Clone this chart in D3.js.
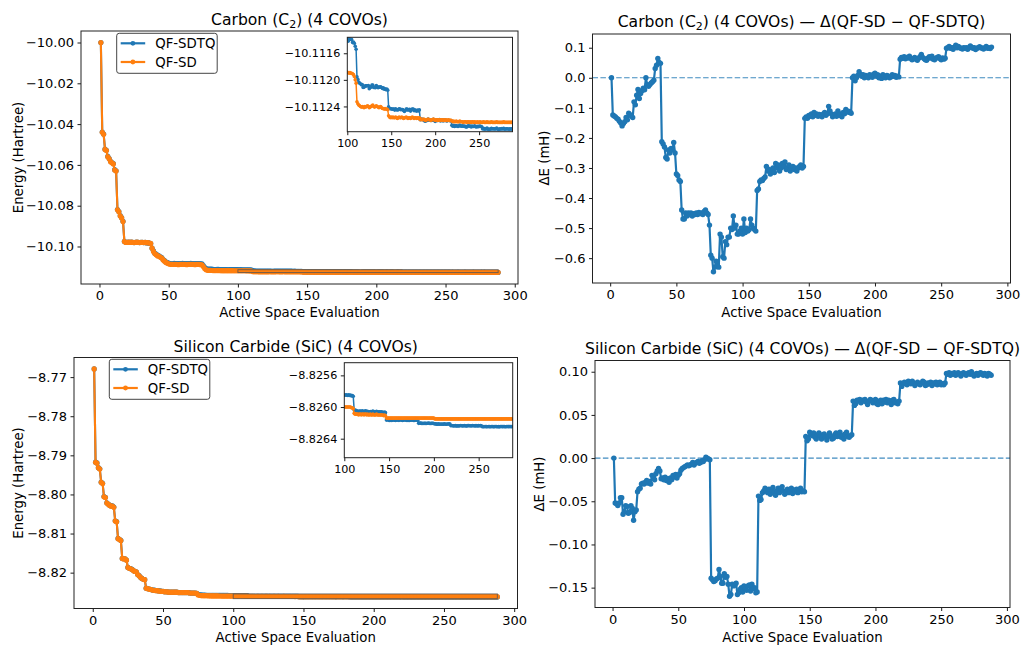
<!DOCTYPE html>
<html lang="en">
<head>
<meta charset="utf-8">
<title>QF-SD vs QF-SDTQ active space evaluation</title>
<script src="https://cdn.jsdelivr.net/npm/d3@7"></script>
<style>
  body { margin: 0; background: #fff; }
  svg { display: block; font-family: "DejaVu Sans", sans-serif; }
</style>
</head>
<body>
<svg id="fig" width="1024" height="645"></svg>
<script>
// x: active space evaluation index, shared by every panel
var evalIdx = d3.range(1, 289);

// Carbon (C2), QF-SD energy in Hartree
var carbonSD = [
  -10.0, -10.044, -10.045, -10.0524, -10.053, -10.056, -10.057, -10.0584, -10.059, -10.0595,
  -10.0625, -10.063, -10.082, -10.083, -10.085, -10.086, -10.0878, -10.0976, -10.098, -10.098,
  -10.0979, -10.098, -10.0979, -10.098, -10.0981, -10.098, -10.0979, -10.098, -10.0981, -10.098,
  -10.098, -10.0981, -10.098, -10.0982, -10.0981, -10.0983, -10.0985, -10.1008, -10.1024, -10.1036,
  -10.104, -10.1046, -10.1048, -10.1053, -10.1057, -10.1066, -10.1072, -10.1078, -10.1082, -10.1085,
  -10.1087, -10.1088, -10.1088, -10.1087, -10.1088, -10.1088, -10.1089, -10.1088, -10.1088, -10.1087,
  -10.1088, -10.1088, -10.1089, -10.1088, -10.1088, -10.1087, -10.1088, -10.1088, -10.1089, -10.1088,
  -10.1088, -10.1088, -10.1089, -10.109, -10.1098, -10.1108, -10.1114, -10.1117, -10.11172, -10.11175,
  -10.11176, -10.11178, -10.1118, -10.1118, -10.11181, -10.11182, -10.11182, -10.11183, -10.11184, -10.11184,
  -10.11185, -10.11185, -10.11186, -10.11186, -10.11187, -10.11187, -10.11188, -10.11188, -10.11188, -10.11189,
  -10.11189, -10.1119, -10.11189, -10.1119, -10.1119, -10.11191, -10.11192, -10.11195, -10.112, -10.11205,
  -10.11233, -10.11236, -10.11238, -10.11239, -10.1124, -10.11241, -10.1124, -10.11241, -10.11242, -10.1124,
  -10.11241, -10.1124, -10.11239, -10.1124, -10.11242, -10.11241, -10.1124, -10.11239, -10.11238, -10.1124,
  -10.11241, -10.1124, -10.11239, -10.1124, -10.11241, -10.11242, -10.11241, -10.1124, -10.11242, -10.11243,
  -10.11243, -10.11244, -10.11243, -10.11244, -10.11244, -10.11245, -10.11254, -10.11256, -10.11257, -10.11256,
  -10.11257, -10.11256, -10.11257, -10.11257, -10.11256, -10.11257, -10.11258, -10.11257, -10.11256, -10.11257,
  -10.11257, -10.11256, -10.11257, -10.11258, -10.11257, -10.11257, -10.11256, -10.11257, -10.11258, -10.11257,
  -10.11257, -10.11258, -10.11257, -10.11256, -10.11257, -10.11258, -10.11257, -10.11257, -10.11258, -10.11257,
  -10.11258, -10.11257, -10.1126, -10.11259, -10.1126, -10.1126, -10.11259, -10.1126, -10.11261, -10.1126,
  -10.1126, -10.11259, -10.1126, -10.1126, -10.11261, -10.1126, -10.1126, -10.11259, -10.1126, -10.11261,
  -10.1126, -10.1126, -10.11261, -10.1126, -10.1126, -10.11261, -10.1126, -10.1126, -10.11261, -10.1126,
  -10.11261, -10.1126, -10.11261, -10.11261, -10.1126, -10.11261, -10.11261, -10.11261, -10.11262, -10.11263,
  -10.11262, -10.11263, -10.11263, -10.11262, -10.11263, -10.11263, -10.11263, -10.11262, -10.11263, -10.11263,
  -10.11263, -10.11264, -10.11263, -10.11263, -10.11263, -10.11264, -10.11263, -10.11263, -10.11264, -10.11263,
  -10.11264, -10.11263, -10.11263, -10.11264, -10.11263, -10.11264, -10.11264, -10.11263, -10.11264, -10.11264,
  -10.11263, -10.11264, -10.11264, -10.11264, -10.11263, -10.11264, -10.11264, -10.11264, -10.11263, -10.11264,
  -10.11264, -10.11264, -10.11264, -10.11263, -10.11264, -10.11264, -10.11264, -10.11264, -10.11264, -10.11263,
  -10.11264, -10.11264, -10.11264, -10.11264, -10.11264, -10.11264, -10.11264, -10.11263, -10.11264, -10.11264,
  -10.11264, -10.11264, -10.11264, -10.11264, -10.11264, -10.11264, -10.11264, -10.11264
];

// Carbon (C2), QF-SD minus QF-SDTQ in mH
var carbonDelta = [
  0, -0.124, -0.127, -0.13, -0.135, -0.138, -0.145, -0.15, -0.16, -0.152,
  -0.146, -0.132, -0.14, -0.118, -0.123, -0.127, -0.132, -0.08, -0.09, -0.058,
  -0.039, -0.069, -0.052, -0.043, -0.035, -0.04, 0.0, -0.024, -0.028, -0.022,
  -0.017, -0.013, -0.008, 0.031, 0.042, 0.064, 0.051, 0.048, -0.213, -0.22,
  -0.23, -0.265, -0.27, -0.24, -0.25, -0.235, -0.24, -0.215, -0.25, -0.32,
  -0.325, -0.34, -0.345, -0.44, -0.47, -0.47, -0.45, -0.46, -0.45, -0.455,
  -0.45, -0.46, -0.452, -0.455, -0.45, -0.455, -0.448, -0.452, -0.45, -0.455,
  -0.445, -0.44, -0.45, -0.455, -0.49, -0.59, -0.6, -0.645, -0.63, -0.61,
  -0.625, -0.63, -0.52, -0.53, -0.595, -0.6, -0.545, -0.555, -0.53, -0.53,
  -0.5, -0.505, -0.46, -0.5, -0.49, -0.52, -0.52, -0.51, -0.5, -0.52,
  -0.47, -0.515, -0.5, -0.51, -0.505, -0.47, -0.49, -0.5, -0.505, -0.51,
  -0.375, -0.37, -0.345, -0.34, -0.342, -0.335, -0.33, -0.295, -0.31, -0.305,
  -0.32, -0.31, -0.3, -0.315, -0.285, -0.3, -0.29, -0.31, -0.3, -0.285,
  -0.295, -0.28, -0.305, -0.3, -0.29, -0.31, -0.3, -0.295, -0.305, -0.3,
  -0.31, -0.3, -0.295, -0.29, -0.3, -0.295, -0.135, -0.13, -0.135, -0.125,
  -0.128, -0.12, -0.13, -0.115, -0.125, -0.12, -0.128, -0.122, -0.125, -0.13,
  -0.12, -0.115, -0.125, -0.12, -0.095, -0.11, -0.12, -0.13, -0.125, -0.12,
  -0.128, -0.11, -0.125, -0.12, -0.13, -0.115, -0.12, -0.105, -0.11, -0.115,
  -0.112, -0.118, 0.0, 0.005, -0.01, 0.0, 0.008, 0.02, 0.012, 0.005,
  0.01, 0.0, 0.008, 0.004, 0.0, 0.01, 0.006, 0.002, 0.012, 0.015,
  0.005, 0.01, 0.0, 0.005, -0.002, 0.01, 0.004, 0.0, 0.008, 0.005,
  0.0, 0.003, 0.01, 0.005, 0.008, 0.002, 0.005, 0.003, 0.062, 0.068,
  0.065, 0.07, 0.063, 0.068, 0.066, 0.072, 0.065, 0.06, 0.064, 0.068,
  0.062, 0.058, 0.065, 0.07, 0.078, 0.068, 0.064, 0.06, 0.058, 0.065,
  0.07, 0.066, 0.072, 0.062, 0.06, 0.065, 0.068, 0.07, 0.064, 0.06,
  0.066, 0.062, 0.065, 0.098, 0.1, 0.104, 0.098, 0.1, 0.095, 0.102,
  0.108, 0.1, 0.104, 0.1, 0.098, 0.096, 0.1, 0.098, 0.1, 0.095,
  0.1, 0.106, 0.102, 0.098, 0.1, 0.094, 0.098, 0.1, 0.103, 0.1,
  0.098, 0.096, 0.1, 0.104, 0.098, 0.1, 0.097, 0.102
];

// Silicon carbide (SiC), QF-SD energy in Hartree
var sicSD = [
  -8.7679, -8.7918, -8.792, -8.7932, -8.7935, -8.7969, -8.7972, -8.8006, -8.8008, -8.8022,
  -8.8025, -8.8028, -8.803, -8.803, -8.8033, -8.8068, -8.807, -8.8113, -8.8115, -8.8118,
  -8.8164, -8.8165, -8.8165, -8.8168, -8.8187, -8.8189, -8.819, -8.8192, -8.8195, -8.8197,
  -8.8198, -8.8205, -8.8208, -8.8212, -8.8215, -8.8217, -8.8218, -8.824, -8.8241, -8.8242,
  -8.8243, -8.8244, -8.8245, -8.8245, -8.8246, -8.8246, -8.8247, -8.8247, -8.8248, -8.8248,
  -8.8249, -8.8249, -8.8249, -8.825, -8.825, -8.825, -8.825, -8.825, -8.825, -8.825,
  -8.8251, -8.8251, -8.8251, -8.8251, -8.8251, -8.8251, -8.8251, -8.8251, -8.8252, -8.8252,
  -8.8252, -8.8252, -8.8252, -8.8253, -8.8257, -8.8258, -8.82585, -8.82588, -8.8259, -8.8259,
  -8.82591, -8.82592, -8.82593, -8.82594, -8.82594, -8.82595, -8.82595, -8.82596, -8.82596, -8.82597,
  -8.82597, -8.82598, -8.82598, -8.82598, -8.82599, -8.82599, -8.82599, -8.826, -8.826, -8.826,
  -8.826, -8.826, -8.826, -8.826, -8.826, -8.826, -8.826, -8.82601, -8.82601, -8.82602,
  -8.82608, -8.82609, -8.82609, -8.82609, -8.82609, -8.8261, -8.82609, -8.82609, -8.8261, -8.82609,
  -8.82609, -8.8261, -8.82609, -8.82609, -8.8261, -8.82609, -8.8261, -8.8261, -8.82609, -8.8261,
  -8.8261, -8.82609, -8.8261, -8.8261, -8.8261, -8.82609, -8.8261, -8.8261, -8.8261, -8.8261,
  -8.8261, -8.8261, -8.8261, -8.82611, -8.8261, -8.82611, -8.82614, -8.82614, -8.82614, -8.82614,
  -8.82614, -8.82614, -8.82614, -8.82614, -8.82614, -8.82614, -8.82614, -8.82614, -8.82614, -8.82614,
  -8.82614, -8.82614, -8.82614, -8.82614, -8.82614, -8.82614, -8.82614, -8.82614, -8.82614, -8.82614,
  -8.82614, -8.82614, -8.82614, -8.82614, -8.82614, -8.82614, -8.82614, -8.82614, -8.82614, -8.82614,
  -8.82614, -8.82614, -8.82614, -8.82614, -8.82614, -8.82614, -8.82614, -8.82614, -8.82614, -8.82614,
  -8.82614, -8.82614, -8.82614, -8.82614, -8.82614, -8.82614, -8.82614, -8.82614, -8.82614, -8.82614,
  -8.82615, -8.82615, -8.82615, -8.82615, -8.82615, -8.82615, -8.82615, -8.82615, -8.82615, -8.82615,
  -8.82615, -8.82615, -8.82615, -8.82615, -8.82615, -8.82615, -8.82615, -8.82615, -8.82615, -8.82615,
  -8.82615, -8.82615, -8.82615, -8.82615, -8.82615, -8.82615, -8.82615, -8.82615, -8.82615, -8.82615,
  -8.82615, -8.82615, -8.82615, -8.82615, -8.82615, -8.82615, -8.82615, -8.82615, -8.82615, -8.82615,
  -8.82615, -8.82615, -8.82615, -8.82615, -8.82615, -8.82615, -8.82615, -8.82615, -8.82615, -8.82615,
  -8.82615, -8.82615, -8.82615, -8.82615, -8.82615, -8.82615, -8.82615, -8.82615, -8.82615, -8.82615,
  -8.82615, -8.82615, -8.82615, -8.82615, -8.82615, -8.82615, -8.82615, -8.82615, -8.82615, -8.82615,
  -8.82615, -8.82615, -8.82615, -8.82615, -8.82615, -8.82615, -8.82615, -8.82615, -8.82615, -8.82615,
  -8.82615, -8.82615, -8.82615, -8.82615, -8.82615, -8.82615, -8.82615, -8.82615
];

// Silicon carbide (SiC), QF-SD minus QF-SDTQ in mH
var sicDelta = [
  0, -0.052, -0.053, -0.055, -0.052, -0.046, -0.046, -0.065, -0.062, -0.055,
  -0.056, -0.064, -0.063, -0.055, -0.058, -0.072, -0.062, -0.06, -0.039, -0.036,
  -0.035, -0.03, -0.029, -0.03, -0.028, -0.026, -0.029, -0.027, -0.03, -0.02,
  -0.023, -0.025, -0.018, -0.015, -0.012, -0.015, -0.024, -0.023, -0.025, -0.022,
  -0.026, -0.024, -0.028, -0.023, -0.025, -0.02, -0.022, -0.019, -0.023, -0.02,
  -0.018, -0.014, -0.012, -0.011, -0.01, -0.009, -0.008, -0.009, -0.008, -0.007,
  -0.005, -0.008, -0.006, -0.005, -0.004, -0.006, -0.005, -0.003, -0.004, -0.002,
  0.001, 0.0, -0.001, -0.002, -0.139, -0.141, -0.143, -0.142, -0.14, -0.139,
  -0.129, -0.137, -0.145, -0.145, -0.134, -0.138, -0.137, -0.146, -0.16, -0.158,
  -0.146, -0.148, -0.147, -0.145, -0.158, -0.156, -0.152, -0.15, -0.155, -0.148,
  -0.152, -0.153, -0.148, -0.147, -0.154, -0.146, -0.151, -0.15, -0.156, -0.155,
  -0.044, -0.049, -0.048, -0.04, -0.038, -0.035, -0.038, -0.04, -0.036, -0.042,
  -0.037, -0.034, -0.04, -0.043, -0.038, -0.035, -0.04, -0.036, -0.033, -0.038,
  -0.042, -0.039, -0.036, -0.04, -0.038, -0.035, -0.041, -0.037, -0.039, -0.036,
  -0.04, -0.038, -0.035, -0.039, -0.038, -0.039, 0.025, 0.02, 0.022, 0.03,
  0.028, 0.026, 0.029, 0.024, 0.022, 0.027, 0.029, 0.025, 0.022, 0.027,
  0.028, 0.024, 0.021, 0.026, 0.029, 0.025, 0.022, 0.023, 0.027, 0.029,
  0.025, 0.028, 0.03, 0.024, 0.026, 0.022, 0.028, 0.03, 0.025, 0.024,
  0.026, 0.027, 0.066, 0.061, 0.063, 0.067, 0.066, 0.068, 0.064, 0.067,
  0.066, 0.068, 0.065, 0.062, 0.066, 0.068, 0.067, 0.064, 0.066, 0.068,
  0.063, 0.062, 0.066, 0.067, 0.063, 0.067, 0.065, 0.068, 0.064, 0.067,
  0.066, 0.062, 0.067, 0.068, 0.064, 0.065, 0.063, 0.066, 0.087, 0.083,
  0.086, 0.088, 0.087, 0.085, 0.089, 0.088, 0.086, 0.089, 0.087, 0.084,
  0.086, 0.088, 0.086, 0.085, 0.087, 0.089, 0.088, 0.084, 0.085, 0.087,
  0.086, 0.088, 0.084, 0.087, 0.086, 0.088, 0.085, 0.087, 0.088, 0.085,
  0.086, 0.085, 0.087, 0.098, 0.097, 0.099, 0.096, 0.098, 0.097, 0.099,
  0.096, 0.098, 0.099, 0.097, 0.095, 0.098, 0.099, 0.097, 0.096, 0.098,
  0.099, 0.097, 0.1, 0.097, 0.095, 0.097, 0.098, 0.096, 0.098, 0.099,
  0.097, 0.096, 0.098, 0.097, 0.095, 0.098, 0.097, 0.096
];

// QF-SDTQ energy follows from the plotted difference: E(SDTQ) = E(SD) - dE(mH)/1000
var carbonSDTQ = carbonSD.map(function(v, i) { return v - carbonDelta[i] / 1000; });
var sicSDTQ = sicSD.map(function(v, i) { return v - sicDelta[i] / 1000; });

var seriesNames = ['QF-SDTQ', 'QF-SD'];
var xTicks = [0, 50, 100, 150, 200, 250, 300];
var insetXRange = [100, 288];
var insetXTicks = [100, 150, 200, 250];
var carbonYTicks = [-10.00, -10.02, -10.04, -10.06, -10.08, -10.10];
var carbonInsetY = [-10.11278, -10.11136];
var carbonInsetTicks = [-10.1116, -10.1120, -10.1124];
var carbonDeltaTicks = [0.1, 0.0, -0.1, -0.2, -0.3, -0.4, -0.5, -0.6];
var sicYTicks = [-8.77, -8.78, -8.79, -8.80, -8.81, -8.82];
var sicInsetY = [-8.82664, -8.82544];
var sicInsetTicks = [-8.8256, -8.8260, -8.8264];
var sicDeltaTicks = [0.10, 0.05, 0.00, -0.05, -0.10, -0.15];

var blue = '#1f77b4', orange = '#ff7f0e';
var svg = d3.select('#fig');
var clipCount = 0;

function padded(ext) {
  var p = (ext[1] - ext[0]) * 0.05;
  return [ext[0] - p, ext[1] + p];
}

// one set of axes: white face, clipped plot layer, ticks, spines on top
function makeAxes(box, xDom, yDom, xt, yt, yFmt, fs) {
  var x = d3.scaleLinear().domain(xDom).range([box.x, box.x + box.w]);
  var y = d3.scaleLinear().domain(yDom).range([box.y + box.h, box.y]);
  var g = svg.append('g');
  g.append('rect').attr('x', box.x).attr('y', box.y).attr('width', box.w).attr('height', box.h).attr('fill', '#fff');
  var id = 'clip' + (clipCount++);
  svg.append('clipPath').attr('id', id).append('rect')
    .attr('x', box.x).attr('y', box.y).attr('width', box.w).attr('height', box.h);
  var plot = g.append('g').attr('clip-path', 'url(#' + id + ')');

  var ax = g.append('g').attr('transform', 'translate(0,' + (box.y + box.h) + ')')
    .call(d3.axisBottom(x).tickValues(xt).tickFormat(d3.format('d')).tickSize(3.5).tickPadding(3.5));
  var ay = g.append('g').attr('transform', 'translate(' + box.x + ',0)')
    .call(d3.axisLeft(y).tickValues(yt).tickFormat(d3.format(yFmt)).tickSize(3.5).tickPadding(3.5));
  [ax, ay].forEach(function(a) {
    a.select('.domain').remove();
    a.attr('font-family', null).attr('font-size', fs);
    a.selectAll('.tick line').attr('stroke', '#000').attr('stroke-width', 0.9);
    a.selectAll('.tick text').attr('fill', '#000');
  });
  g.append('rect').attr('x', box.x).attr('y', box.y).attr('width', box.w).attr('height', box.h)
    .attr('fill', 'none').attr('stroke', '#222').attr('stroke-width', 1);
  return { x: x, y: y, plot: plot, box: box };
}

function drawSeries(a, vals, color, lw, r, keep) {
  var pts = evalIdx.map(function(d, i) { return [d, vals[i]]; });
  if (keep) pts = pts.filter(keep);
  a.plot.append('path').datum(pts)
    .attr('fill', 'none').attr('stroke', color).attr('stroke-width', lw).attr('stroke-linejoin', 'round')
    .attr('d', d3.line().x(function(d) { return a.x(d[0]); }).y(function(d) { return a.y(d[1]); }));
  a.plot.append('g').selectAll('circle').data(pts).join('circle')
    .attr('cx', function(d) { return a.x(d[0]); })
    .attr('cy', function(d) { return a.y(d[1]); })
    .attr('r', r).attr('fill', color);
}

function title(parts, cx, y) {
  var t = svg.append('text').attr('x', cx).attr('y', y).attr('text-anchor', 'middle').attr('font-size', 15.6);
  var shifted = false;
  parts.forEach(function(p) {
    if (p.sub) { t.append('tspan').attr('font-size', 11).attr('dy', 3).text(p.t); shifted = true; }
    else { t.append('tspan').attr('dy', shifted ? -3 : 0).text(p.t); shifted = false; }
  });
}

function axisLabels(xl, yl, xPos, yPos) {
  svg.append('text').attr('x', xPos[0]).attr('y', xPos[1]).attr('text-anchor', 'middle')
    .attr('font-size', 13.3).text(xl);
  svg.append('text').attr('transform', 'translate(' + yPos[0] + ',' + yPos[1] + ') rotate(-90)')
    .attr('text-anchor', 'middle').attr('font-size', 13.3).text(yl);
}

function legend(bx, by) {
  var g = svg.append('g');
  g.append('rect').attr('x', bx).attr('y', by).attr('width', 100.5).attr('height', 40).attr('rx', 2.5)
    .attr('fill', '#fff').attr('fill-opacity', 0.8).attr('stroke', '#444').attr('stroke-width', 1);
  [[seriesNames[0], blue], [seriesNames[1], orange]].forEach(function(s, i) {
    var cy = by + 10 + i * 18.7;
    g.append('line').attr('x1', bx + 4).attr('x2', bx + 28.5).attr('y1', cy).attr('y2', cy)
      .attr('stroke', s[1]).attr('stroke-width', 2.2);
    g.append('circle').attr('cx', bx + 16.2).attr('cy', cy).attr('r', 2.4).attr('fill', s[1]);
    g.append('text').attr('x', bx + 38.5).attr('y', cy + 4.8).attr('font-size', 13.3).text(s[0]);
  });
}

function energyPanel(box, insetBox, sd, sdtq, yt, yFmt, insetY, insetTicks, legendAt) {
  var xDom = padded(d3.extent(evalIdx));
  var yDom = padded(d3.extent(sd.concat(sdtq)));
  var a = makeAxes(box, xDom, yDom, xTicks, yt, yFmt, 13);
  drawSeries(a, sdtq, blue, 2.1, 2.6);
  drawSeries(a, sd, orange, 2.1, 2.6);
  // zoom region marker
  a.plot.append('rect')
    .attr('x', a.x(insetXRange[0])).attr('y', a.y(insetY[1]))
    .attr('width', a.x(insetXRange[1]) - a.x(insetXRange[0]))
    .attr('height', a.y(insetY[0]) - a.y(insetY[1]))
    .attr('fill', 'none').attr('stroke', '#555').attr('stroke-opacity', 0.8).attr('stroke-width', 1);
  legend(legendAt[0], legendAt[1]);

  var ins = makeAxes(insetBox, insetXRange, insetY, insetXTicks, insetTicks, '.4f', 11.2);
  var inRange = function(d) { return d[0] >= 99; };
  drawSeries(ins, sdtq, blue, 1.5, 1.8, inRange);
  drawSeries(ins, sd, orange, 1.5, 1.8, inRange);
}

function deltaPanel(box, delta, yt, yFmt) {
  var a = makeAxes(box, padded(d3.extent(evalIdx)), padded(d3.extent(delta)), xTicks, yt, yFmt, 13);
  a.plot.append('line').attr('x1', box.x).attr('x2', box.x + box.w).attr('y1', a.y(0)).attr('y2', a.y(0))
    .attr('stroke', blue).attr('stroke-opacity', 0.85).attr('stroke-width', 1.1).attr('stroke-dasharray', '5.5,2.4');
  drawSeries(a, delta, blue, 2.2, 2.7);
}

// top row: carbon
energyPanel({x: 81, y: 31, w: 437, h: 253}, {x: 347.3, y: 37.3, w: 165.2, h: 94.4},
  carbonSD, carbonSDTQ, carbonYTicks, '.2f', carbonInsetY, carbonInsetTicks, [116.7, 33.3]);
title([{t: 'Carbon (C'}, {t: '2', sub: true}, {t: ') (4 COVOs)'}], 299.5, 25);
axisLabels('Active Space Evaluation', 'Energy (Hartree)', [299.5, 316.5], [23, 157.5]);

deltaPanel({x: 592.5, y: 34, w: 418, h: 249}, carbonDelta, carbonDeltaTicks, '.1f');
title([{t: 'Carbon (C'}, {t: '2', sub: true}, {t: ') (4 COVOs) \u2014 \u0394(QF-SD \u2212 QF-SDTQ)'}], 801.5, 27.3);
axisLabels('Active Space Evaluation', '\u0394E (mH)', [801.5, 316.5], [548.5, 158]);

// bottom row: silicon carbide
energyPanel({x: 74, y: 357.5, w: 443.5, h: 251}, {x: 344.3, y: 362.7, w: 168.4, h: 95},
  sicSD, sicSDTQ, sicYTicks, '.2f', sicInsetY, sicInsetTicks, [109.3, 359.3]);
title([{t: 'Silicon Carbide (SiC) (4 COVOs)'}], 295.75, 351.5);
axisLabels('Active Space Evaluation', 'Energy (Hartree)', [295.75, 642], [22.5, 483]);

deltaPanel({x: 595, y: 360.5, w: 415, h: 247}, sicDelta, sicDeltaTicks, '.2f');
title([{t: 'Silicon Carbide (SiC) (4 COVOs) \u2014 \u0394(QF-SD \u2212 QF-SDTQ)'}], 802.5, 353.5);
axisLabels('Active Space Evaluation', '\u0394E (mH)', [802.5, 641.5], [544, 484]);
</script>
</body>
</html>
